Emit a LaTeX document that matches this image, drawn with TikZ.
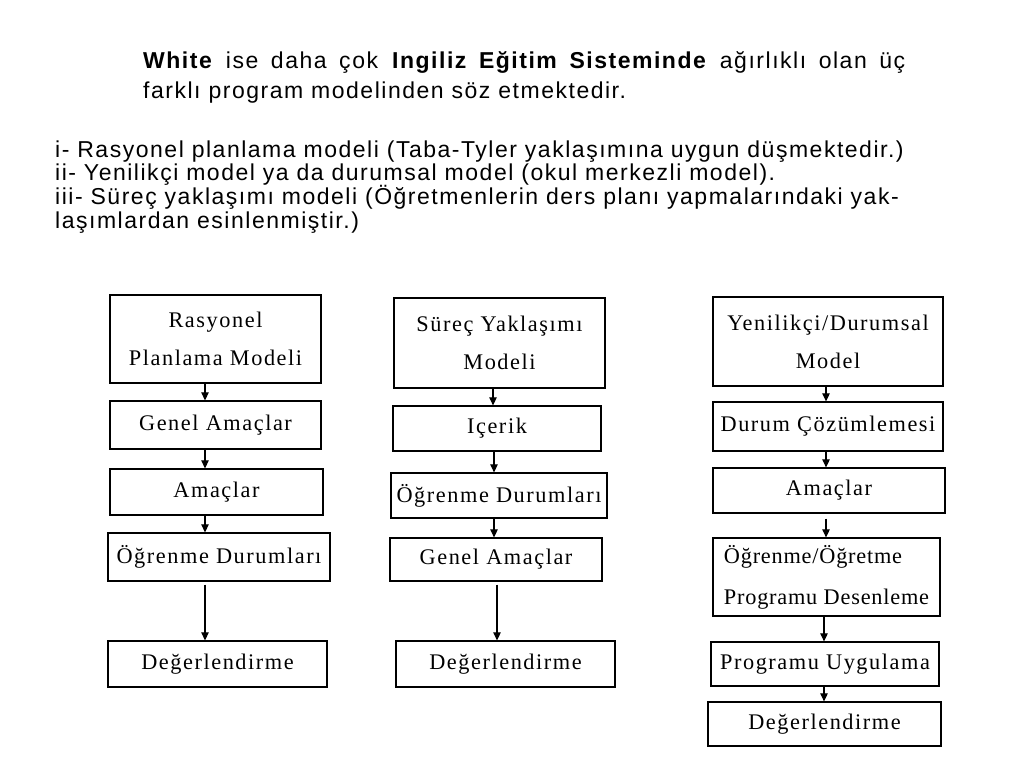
\documentclass[tikz,border=0pt]{standalone}
\usepackage{fontspec}
\setmainfont[LetterSpace=6.6]{Liberation Sans}
\newfontfamily\boxserif[LetterSpace=7]{Liberation Serif}
\newfontfamily\boxserifn[LetterSpace=3.5]{Liberation Serif}
\usetikzlibrary{arrows.meta}
\tikzset{
  x=1pt, y=-1pt,
  txt/.style={anchor=base west, inner sep=0pt, font=\fontsize{23}{24}\selectfont},
  bx/.style={draw, line width=1.3pt, inner sep=0pt, align=center,
     font=\boxserif\fontsize{22.3}{38}\selectfont},
  arr/.style={line width=1.2pt, -{Triangle[length=8pt,width=7.5pt]}}
}
\begin{document}
\begin{tikzpicture}
\useasboundingbox[fill=white] (0,0) rectangle (1024,768);
% top text
\node[txt] (t1) at (143,68) {\makebox[762pt][s]{\textbf{White} ise daha çok \textbf{Ingiliz Eğitim Sisteminde} ağırlıklı olan üç}};
\node[txt] (t2) at (143,98) {farklı program modelinden söz etmektedir.};
\node[txt] (l1) at (55,157) {i- Rasyonel planlama modeli (Taba-Tyler yaklaşımına uygun düşmektedir.)};
\node[txt] (l2) at (55,180.5) {ii- Yenilikçi model ya da durumsal model (okul merkezli model).};
\node[txt] (l3) at (55,204) {iii- Süreç yaklaşımı modeli (Öğretmenlerin ders planı yapmalarındaki yak-};
\node[txt] (l4) at (55,228) {laşımlardan esinlenmiştir.)};
% column 1
\node[bx, minimum width=211pt, minimum height=88pt] (r1) at (215.5,339) {Rasyonel\\Planlama Modeli};
\node[bx, minimum width=211pt, minimum height=48pt] (r2) at (215.5,425) {Genel Amaçlar};
\node[bx, minimum width=213pt, minimum height=46pt] (r3) at (216.5,492) {Amaçlar};
\node[bx, minimum width=222pt, minimum height=48pt] (r4) at (219,557) {Öğrenme Durumları};
\node[bx, minimum width=219pt, minimum height=46pt] (r5) at (217.5,664) {Değerlendirme};
% column 2
\node[bx, minimum width=211pt, minimum height=90pt] (s1) at (499.5,343) {Süreç Yaklaşımı\\Modeli};
\node[bx, minimum width=208pt, minimum height=45pt] (s2) at (497,428.5) {Içerik};
\node[bx, minimum width=216pt, minimum height=45pt] (s3) at (499,495.5) {Öğrenme Durumları};
\node[bx, minimum width=212pt, minimum height=43pt] (s4) at (496,559.5) {Genel Amaçlar};
\node[bx, minimum width=219pt, minimum height=46pt] (s5) at (505.5,664) {Değerlendirme};
% column 3
\node[bx, minimum width=230pt, minimum height=89pt] (y1) at (828,341.5) {Yenilikçi/Durumsal\\Model};
\node[bx, minimum width=230pt, minimum height=49pt] (y2) at (828,426.5) {Durum Çözümlemesi};
\node[bx, minimum width=232pt, minimum height=45pt] (y3) at (829,490.5) {Amaçlar};
\node[bx, minimum width=227pt, minimum height=78pt, align=left, font=\boxserifn\fontsize{22.3}{41}\selectfont] (y4) at (826.5,577) {Öğrenme/Öğretme\\Programu Desenleme};
\node[bx, minimum width=228pt, minimum height=44pt] (y5) at (825,664) {Programu Uygulama};
\node[bx, minimum width=233pt, minimum height=44pt] (y6) at (824.5,724) {Değerlendirme};
% arrow columns
\coordinate (ca) at (205,0);
\coordinate (cb) at (493,0);
\coordinate (cc) at (494,0);
\coordinate (cd) at (497,0);
\coordinate (ce) at (826,0);
\coordinate (cf) at (824,0);
\draw[arr] (r1.south -| ca) -- (r2.north -| ca);
\draw[arr] (r2.south -| ca) -- (r3.north -| ca);
\draw[arr] (r3.south -| ca) -- (r4.north -| ca);
\draw[arr, shorten <=3pt] (r4.south -| ca) -- (r5.north -| ca);
\draw[arr] (s1.south -| cb) -- (s2.north -| cb);
\draw[arr] (s2.south -| cc) -- (s3.north -| cc);
\draw[arr] (s3.south -| cc) -- (s4.north -| cc);
\draw[arr, shorten <=3pt] (s4.south -| cd) -- (s5.north -| cd);
\draw[arr] (y1.south -| ce) -- (y2.north -| ce);
\draw[arr] (y2.south -| ce) -- (y3.north -| ce);
\draw[arr, shorten <=5pt] (y3.south -| ce) -- (y4.north -| ce);
\draw[arr] (y4.south -| cf) -- (y5.north -| cf);
\draw[arr] (y5.south -| cf) -- (y6.north -| cf);
\end{tikzpicture}
\end{document}
